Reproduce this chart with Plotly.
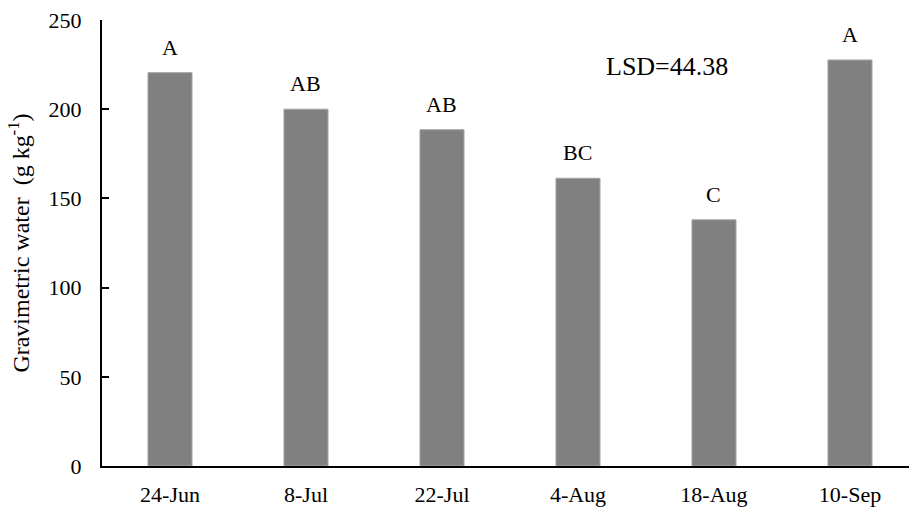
import plotly.graph_objects as go

# Sampling dates and mean gravimetric water content (g kg-1)
dates = ["24-Jun", "8-Jul", "22-Jul", "4-Aug", "18-Aug", "10-Sep"]
water = [220.5, 200.0, 188.5, 161.3, 138.0, 227.6]
groups = ["A", "AB", "AB", "BC", "C", "A"]
lsd_label = "LSD=44.38"
y_ticks = [0, 50, 100, 150, 200, 250]

FONT = "Liberation Serif"

fig = go.Figure()
fig.add_trace(go.Bar(
    x=dates,
    y=water,
    width=0.324,
    marker=dict(color="#808080", line=dict(color="#a6a6a6", width=1)),
    showlegend=False,
    hoverinfo="x+y",
))

# Significance group letters above each bar
for d, v, g in zip(dates, water, groups):
    fig.add_annotation(
        x=d, y=v, text=g, showarrow=False,
        yanchor="bottom", yshift=11,
        font=dict(family=FONT, size=22, color="black"),
    )

fig.add_annotation(
    x=3.654, y=224, text=lsd_label, showarrow=False,
    xanchor="center", yanchor="middle",
    font=dict(family=FONT, size=26, color="black"),
)

fig.update_layout(
    width=909, height=508,
    margin=dict(l=102, r=0, t=20, b=42),
    paper_bgcolor="white", plot_bgcolor="white",
    font=dict(family=FONT, size=22, color="black"),
    xaxis=dict(
        type="category",
        range=[-0.5, 5.434],
        showline=True, linecolor="black", linewidth=2,
        ticks="", showgrid=False, zeroline=False,
        tickfont=dict(family=FONT, size=22, color="black"),
        ticklabelstandoff=8,
    ),
    yaxis=dict(
        range=[0, 250],
        tickvals=y_ticks,
        showline=True, linecolor="black", linewidth=2,
        ticks="inside", ticklen=7, tickwidth=1.5, tickcolor="black",
        showgrid=False, zeroline=False,
        tickfont=dict(family=FONT, size=22, color="black"),
        ticklabelstandoff=14,
        title=dict(
            text="Gravimetric water\u00a0\u00a0(g kg<sup>-1</sup>)",
            font=dict(family=FONT, size=24, color="black"),
            standoff=12,
        ),
    ),
)

fig.write_html("out.html")
